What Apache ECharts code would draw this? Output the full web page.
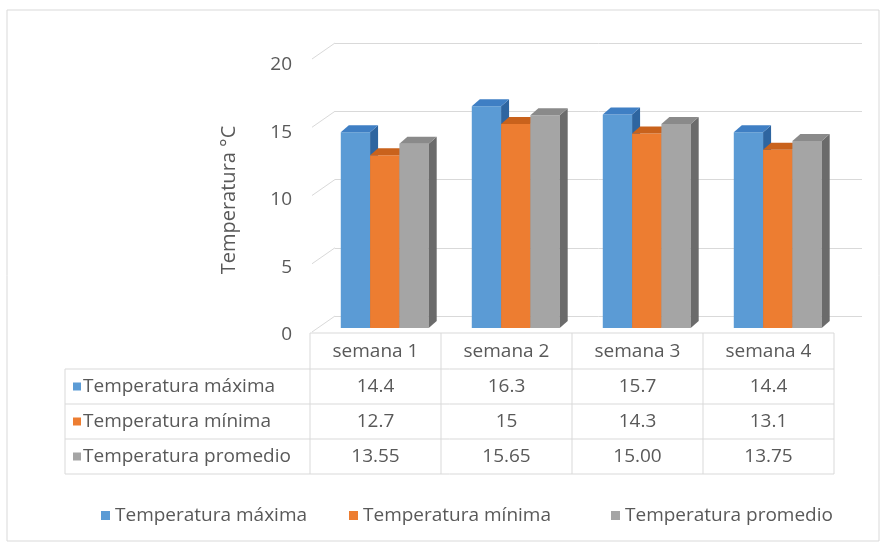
<!DOCTYPE html>
<html>
<head>
<meta charset="utf-8">
<script src="https://cdn.jsdelivr.net/npm/echarts@6/dist/echarts.min.js"></script>
<style>
  html, body { margin: 0; padding: 0; background: #fff; }
  #main { width: 892px; height: 544px; }
</style>
</head>
<body>
<div id="main"></div>
<script>
// data
var categories = ['semana 1', 'semana 2', 'semana 3', 'semana 4'];
var seriesNames = ['Temperatura máxima', 'Temperatura mínima', 'Temperatura promedio'];
var tempMax = [14.4, 16.3, 15.7, 14.4];
var tempMin = [12.7, 15, 14.3, 13.1];
var tempAvg = [13.55, 15.65, 15.00, 13.75];
var tableDecimals = [null, null, 2];
var yTicks = [0, 5, 10, 15, 20];

var seriesData = [tempMax, tempMin, tempAvg];

// colours of the 3d faces
var frontColors = ['#5b9bd5', '#ed7d31', '#a5a5a5'];
var topColors = ['#3f7fc4', '#c9621c', '#8a8a8a'];
var sideColors = ['#2e65a0', '#a8521a', '#6b6b6b'];

var TXT = '#595959';
var LINE = '#d9d9d9';
var FONT = 'Open Sans';

// layout
var plotLeft = 310, plotRight = 834;
var bandW = (plotRight - plotLeft) / categories.length;
var tableLeft = 65, tableTop = 333, headH = 36, rowH = 35;
var depth = [8, -7];
var legendLeft = [96, 344, 606];

var chart = echarts.init(document.getElementById('main'));

function renderBar(k) {
    return function (params, api) {
        var i = api.value(0), v = api.value(1);
        var base = api.coord([i, 0]);
        var top = api.coord([i, v]);
        var band = api.size([1, 0])[0];
        var w = band * 0.2237;
        var x0 = base[0] - band / 2 + band * 0.235 + k * w;
        var x1 = x0 + w;
        var y0 = base[1], y1 = top[1];
        var dx = depth[0], dy = depth[1];
        return {
            type: 'group',
            children: [
                { type: 'rect', shape: { x: x0, y: y1, width: w, height: y0 - y1 }, style: { fill: frontColors[k] } },
                { type: 'polygon', shape: { points: [[x1, y0], [x1, y1], [x1 + dx, y1 + dy], [x1 + dx, y0 + dy]] }, style: { fill: sideColors[k] } },
                { type: 'polygon', shape: { points: [[x0, y1], [x1, y1], [x1 + dx, y1 + dy], [x0 + dx, y1 + dy]] }, style: { fill: topColors[k] } }
            ]
        };
    };
}

// data table under the plot
function fmt(v, d) {
    return d == null ? String(v) : v.toFixed(d);
}
var tableRight = plotLeft + bandW * categories.length;
var tableBottom = tableTop + headH + rowH * seriesNames.length;
var graphics = [];
graphics.push({
    type: 'rect', silent: true,
    shape: { x: 7, y: 10, width: 872, height: 531 },
    style: { fill: null, stroke: LINE, lineWidth: 1 }
});
// horizontal lines
graphics.push({ type: 'line', shape: { x1: plotLeft, y1: tableTop, x2: tableRight, y2: tableTop }, style: { stroke: LINE } });
for (var r = 0; r <= seriesNames.length; r++) {
    var yy = tableTop + headH + r * rowH;
    graphics.push({ type: 'line', shape: { x1: tableLeft, y1: yy, x2: tableRight, y2: yy }, style: { stroke: LINE } });
}
// vertical lines
graphics.push({ type: 'line', shape: { x1: tableLeft, y1: tableTop + headH, x2: tableLeft, y2: tableBottom }, style: { stroke: LINE } });
for (var c = 0; c <= categories.length; c++) {
    var xx = plotLeft + c * bandW;
    graphics.push({ type: 'line', shape: { x1: xx, y1: tableTop, x2: xx, y2: tableBottom }, style: { stroke: LINE } });
}
// header
categories.forEach(function (cat, i) {
    graphics.push({
        type: 'text',
        x: plotLeft + (i + 0.5) * bandW, y: tableTop + headH / 2 + 1,
        style: { text: cat, fill: TXT, font: '19px "' + FONT + '"', align: 'center', verticalAlign: 'middle' }
    });
});
// rows
seriesNames.forEach(function (name, k) {
    var cy = tableTop + headH + (k + 0.5) * rowH;
    graphics.push({ type: 'rect', shape: { x: tableLeft + 8, y: cy - 4, width: 8, height: 8 }, style: { fill: frontColors[k] } });
    graphics.push({
        type: 'text', x: tableLeft + 18, y: cy,
        style: { text: name, fill: TXT, font: '19px "' + FONT + '"', align: 'left', verticalAlign: 'middle' }
    });
    seriesData[k].forEach(function (v, i) {
        graphics.push({
            type: 'text',
            x: plotLeft + (i + 0.5) * bandW, y: cy,
            style: { text: fmt(v, tableDecimals[k]), fill: TXT, font: '19px "' + FONT + '"', align: 'center', verticalAlign: 'middle' }
        });
    });
});

var series = seriesNames.map(function (name, k) {
    return {
        name: name,
        type: 'custom',
        xAxisIndex: 0,
        yAxisIndex: 0,
        itemStyle: { color: frontColors[k] },
        renderItem: renderBar(k),
        data: categories.map(function (cat, i) { return [i, seriesData[k][i]]; })
    };
});

// side wall grid segments
series.push({
    type: 'custom',
    xAxisIndex: 2,
    yAxisIndex: 2,
    silent: true,
    renderItem: function (params, api) {
        var p = api.coord([0, api.value(1)]);
        var x = params.coordSys.x;
        return { type: 'line', shape: { x1: x, y1: p[1], x2: x - 23, y2: p[1] + 16 }, style: { stroke: LINE, lineWidth: 1 } };
    },
    data: yTicks.map(function (v) { return [0, v]; })
});

var option = {
    animation: false,
    backgroundColor: '#fff',
    textStyle: { fontFamily: FONT },
    grid: [
        // bars (front plane)
        { left: plotLeft, right: 892 - plotRight, top: 56, bottom: 216, outerBoundsMode: 'none' },
        // tick labels
        { left: plotLeft, right: 892 - plotRight, top: 65, bottom: 209, outerBoundsMode: 'none' },
        // back wall
        { left: 335, right: 30, top: 43, bottom: 228, outerBoundsMode: 'none' }
    ],
    xAxis: [
        { type: 'category', gridIndex: 0, data: categories, show: false },
        { type: 'category', gridIndex: 1, data: categories, show: false },
        { type: 'category', gridIndex: 2, data: categories, show: false }
    ],
    yAxis: [
        { type: 'value', gridIndex: 0, min: 0, max: 20, interval: 5, show: false },
        {
            type: 'value', gridIndex: 1, min: 0, max: 20, interval: 5,
            name: 'Temperatura °C', nameLocation: 'middle', nameGap: 71,
            nameTextStyle: { color: TXT, fontSize: 20, fontFamily: FONT },
            axisLine: { show: false }, axisTick: { show: false }, splitLine: { show: false },
            axisLabel: { color: TXT, fontSize: 19, fontFamily: FONT, margin: 18 }
        },
        {
            type: 'value', gridIndex: 2, min: 0, max: 20, interval: 5,
            axisLine: { show: false }, axisTick: { show: false }, axisLabel: { show: false },
            splitLine: { show: true, lineStyle: { color: LINE, width: 1 } }
        }
    ],
    legend: seriesNames.map(function (name, k) {
        return {
            data: [name], left: legendLeft[k], top: 501,
            icon: 'rect', itemWidth: 9, itemHeight: 9, itemGap: 6,
            textStyle: { color: TXT, fontSize: 19, fontFamily: FONT },
            selectedMode: false
        };
    }),
    graphic: graphics,
    series: series
};

chart.setOption(option);
</script>
</body>
</html>
